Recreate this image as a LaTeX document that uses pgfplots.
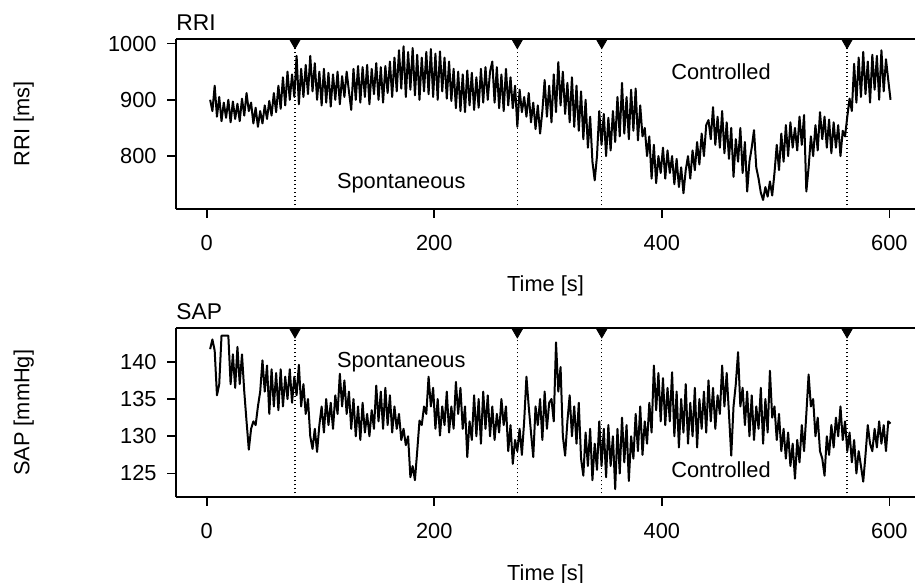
\documentclass[border=0pt]{standalone}
\usepackage{fontspec}
\setmainfont{Liberation Sans}
\usepackage{pgfplots}
\pgfplotsset{compat=1.18}

\pgfplotsset{
  rpanel/.style={
    scale only axis, width=369.5pt,
    xmin=-27, xmax=622.5,
    enlargelimits=false,
    axis x line*=box, axis y line*=left,
    xtick pos=left, ytick pos=left,
    tick align=outside,
    major tick length=4.3pt,
    axis line style={line width=0.9pt},
    every tick/.style={black, line width=0.9pt},
    xtick={0,200,400,600},
    /pgf/number format/assume math mode=true,
    /pgf/number format/1000 sep={},
    scaled ticks=false,
    xticklabel style={inner sep=0pt, yshift=-8.7pt},
    yticklabel style={inner sep=0pt, xshift=-5.2pt},
    xlabel={Time [s]},
    ylabel style={at={(axis description cs:-0.1985,0.5)}, anchor=base},
    every axis title shift=0pt,
    clip=false,
  },
  series/.style={black, line width=1pt, line join=round},
  event/.style={black, line width=0.6pt, dash pattern=on 0.6pt off 1.4pt},
  marker/.style={only marks, mark=triangle*, mark size=3.2pt,
    mark options={rotate=180, fill=black, draw=black, solid}},
}

\begin{document}
\fontsize{10.9}{13}\selectfont
\begin{tikzpicture}
\begin{axis}[rpanel, at={(0,0)}, anchor=north west, height=85pt,
  ymin=706, ymax=1008, ytick={800,900,1000},
  ylabel={RRI [ms]},
  title={RRI}, title style={at={(axis description cs:0,1.049)}, anchor=base west,
    inner sep=0pt, font=\fontsize{11.4}{13}\selectfont},
  xlabel style={at={(axis description cs:0.5,-0.488)}, anchor=base}]
\addplot[series] table {
t v
3 900
5 880
7 925
9 870
11 905
13 862
15 895
17 868
19 900
21 860
23 897
25 866
27 893
29 862
31 902
33 872
35 912
37 880
39 895
41 858
43 886
45 852
47 880
49 858
51 890
53 866
55 898
57 872
59 912
61 878
63 925
65 884
67 940
69 890
71 950
73 900
75 945
77 905
79 978
81 892
83 955
85 905
87 962
89 910
91 978
93 915
95 965
97 900
99 950
101 890
103 955
105 895
107 948
109 888
111 945
113 900
115 950
117 892
119 942
121 905
123 950
125 915
127 882
129 955
131 900
133 960
135 895
137 958
139 905
141 962
143 892
145 955
147 910
149 965
151 900
153 958
155 895
157 960
159 912
161 968
163 905
165 975
167 915
169 988
171 920
173 995
175 905
177 985
179 918
181 992
183 908
185 980
187 900
189 975
191 915
193 985
195 910
197 990
199 905
201 982
203 900
205 986
207 915
209 975
211 902
213 968
215 898
217 955
219 885
221 950
223 880
225 945
227 878
229 952
231 890
233 948
235 882
237 940
239 886
241 955
243 895
245 958
247 900
249 950
251 968
253 895
255 958
257 885
259 945
261 880
263 955
265 890
267 940
269 885
271 925
273 852
275 918
277 878
279 905
281 870
283 912
285 860
287 895
289 848
291 890
293 840
295 880
297 935
299 870
301 925
303 860
305 945
307 878
309 967
311 890
313 950
315 875
317 930
319 860
321 940
323 852
325 925
327 845
329 915
331 830
333 900
335 815
337 870
339 790
341 757
343 800
345 880
347 820
349 875
351 800
353 868
355 810
357 880
359 825
361 905
363 835
365 930
367 840
369 905
371 830
373 918
375 845
377 920
379 828
381 890
383 835
385 850
387 800
389 835
391 760
393 820
395 752
397 800
399 770
401 815
403 760
405 810
407 770
409 800
411 750
413 795
415 745
417 780
419 734
421 775
423 800
425 760
427 810
429 775
431 825
433 785
435 840
437 800
439 855
441 864
443 830
445 887
447 820
449 870
451 815
453 880
455 805
457 860
459 795
461 850
463 763
465 830
467 790
469 850
471 770
473 825
475 737
477 790
479 815
481 846
483 780
485 760
487 735
489 722
491 745
493 728
495 755
497 730
499 770
501 820
503 775
505 840
507 790
509 855
511 800
513 860
515 815
517 850
519 810
521 870
523 820
525 873
527 737
529 780
531 835
533 800
535 855
537 810
539 878
541 830
543 870
545 815
547 865
549 805
551 860
553 815
555 855
557 800
559 845
561 835
563 870
565 902
567 880
569 964
571 895
573 975
575 905
577 985
579 910
581 968
583 895
585 980
587 918
589 978
591 900
593 988
595 915
597 972
599 935
601 900
};
\addplot[event] coordinates {(77.6,706) (77.6,1008)};
\addplot[event] coordinates {(273,706) (273,1008)};
\addplot[event] coordinates {(347.2,706) (347.2,1008)};
\addplot[event] coordinates {(562.8,706) (562.8,1008)};
\addplot[marker] coordinates {(77.6,1002.3) (273,1002.3) (347.2,1002.3) (562.8,1002.3)};
\node[anchor=base] at (axis cs:171,742.5) {Spontaneous};
\node[anchor=base] at (axis cs:452,936) {Controlled};
\end{axis}

\begin{axis}[rpanel, at={(0,-144.65pt)}, anchor=north west, height=84.5pt,
  ymin=121.8, ymax=144.5, ytick={125,130,135,140},
  ylabel={SAP [mmHg]},
  title={SAP}, title style={at={(axis description cs:0,1.053)}, anchor=base west,
    inner sep=0pt, font=\fontsize{11.4}{13}\selectfont},
  xlabel style={at={(axis description cs:0.5,-0.491)}, anchor=base}]
\addplot[series] table {
t v
3 141.7
5 143
7 141.5
9 135.5
11 137
13 143.5
15 143.5
17 143.5
19 143.5
21 137
23 141
25 136.5
27 142
29 137
31 141
33 136
35 132
37 128.2
39 131
41 132
43 131.5
45 134
47 136
49 140.2
51 136
53 139.5
55 133
57 139
59 134
61 138.5
63 133.5
65 139
67 134
69 138
71 135
73 139
75 134.5
77 138
79 135.5
81 139.6
83 134
85 137
87 133
89 135
91 130
93 128.3
95 131
97 127.9
99 131.5
101 134
103 130.5
105 135
107 131.5
109 134.5
111 131
113 135.5
115 133
117 138.4
119 134
121 137.5
123 133
125 136
127 131
129 135
131 130
133 134
135 129.5
137 134.5
139 130.5
141 133
143 130
145 133.5
147 131
149 136.8
151 132
153 136
155 131
157 136.5
159 131.5
161 135.5
163 130.5
165 134
167 131
169 133
171 129.5
173 131
175 128.8
177 130
179 124.5
181 126
183 124.1
185 128
187 132.1
189 131.5
191 134
193 133
195 138
197 134
199 136.5
201 131
203 135
205 130.1
207 134
209 131.5
211 136
213 130.5
215 134
217 131
219 137.3
221 133
223 136.5
225 131
227 134
229 127.2
231 132
233 129.5
235 135.5
237 130
239 135
241 129
243 136
245 131
247 135.5
249 130
251 134
253 129.5
255 133
257 130.5
259 135
261 131.5
263 134
265 128
267 131.5
269 126.3
271 129.5
273 128
275 131
277 127.5
279 132
281 138
283 134
285 130.5
287 127.2
289 134
291 131.5
293 135
295 129.5
297 136
299 131
301 134.5
303 135
305 132
307 142.6
309 136
311 139.3
313 130
315 127.4
317 132
319 135.5
321 130
323 134
325 129
327 134.5
329 127
331 124.7
333 130.5
335 126
337 131
339 124.1
341 129
343 125.5
345 132
347 126
349 131
351 124.5
353 131.5
355 126
357 130
359 122.9
361 131
363 125
365 132.5
367 126.5
369 131.5
371 124
373 130
375 127
377 133
379 128
381 134
383 127.5
385 132
387 129
389 134.5
391 130.5
393 139.5
395 133.5
397 138.5
399 132
401 137.8
403 131.5
405 136.5
407 132
409 138.6
411 130
413 136
415 128.5
417 135
419 130.5
421 137
423 129
425 134.5
427 130
429 136.5
431 128.5
433 135
435 131
437 136
439 130.5
441 137.5
443 132
445 136.5
447 131
449 135.5
451 133
453 139.5
455 134
457 138.5
459 133
461 127.4
463 134
465 137
467 141.3
469 134
471 136.5
473 131.5
475 136
477 130
479 135.5
481 129.5
483 134
485 131
487 136.5
489 129
491 135
493 130.5
495 138.8
497 132.5
499 134
501 129.5
503 133
505 128
507 131
509 127
511 130.5
513 126
515 129
517 124.3
519 129.5
521 126.5
523 131.5
525 128
527 133
529 138.3
531 134
533 135
535 130
537 132.5
539 128
541 127
543 124.7
545 130
547 127.5
549 131.5
551 128.5
553 132.5
555 130
557 134
559 129.5
561 132
563 128
565 130.5
567 126.5
569 129.5
571 125
573 128
575 126
577 123.9
579 127.5
581 131.5
583 129
585 128
587 131
589 128.5
591 132
593 129
595 131.5
597 128
599 132
601 131.7
};
\addplot[event] coordinates {(77.6,121.8) (77.6,144.5)};
\addplot[event] coordinates {(273,121.8) (273,144.5)};
\addplot[event] coordinates {(347.2,121.8) (347.2,144.5)};
\addplot[event] coordinates {(562.8,121.8) (562.8,144.5)};
\addplot[marker] coordinates {(77.6,144.07) (273,144.07) (347.2,144.07) (562.8,144.07)};
\node[anchor=base] at (axis cs:171,139.2) {Spontaneous};
\node[anchor=base] at (axis cs:452,124.46) {Controlled};
\end{axis}
\pgfresetboundingbox
\path[use as bounding box] (-88pt,19.5pt) rectangle (369.5pt,-272pt);
\end{tikzpicture}
\end{document}
